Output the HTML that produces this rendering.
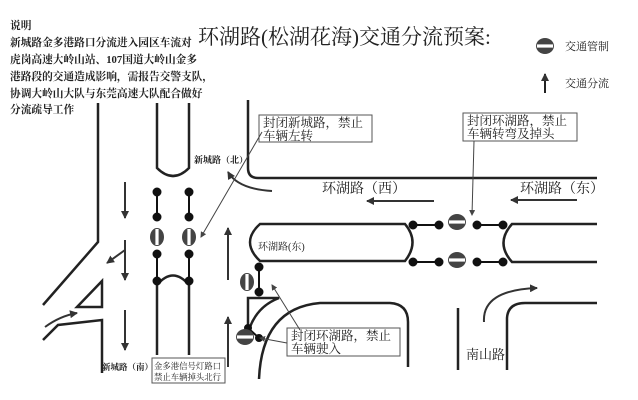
<!DOCTYPE html>
<html><head><meta charset="utf-8"><style>
html,body{margin:0;padding:0;background:#fff;width:638px;height:400px;overflow:hidden}
svg{display:block}
text{font-family:"Liberation Serif","Noto Serif CJK SC","Noto Sans CJK SC",serif;fill:#222}
</style></head><body>
<svg width="638" height="400" viewBox="0 0 638 400" xmlns="http://www.w3.org/2000/svg">
<defs>
<marker id="ah" markerWidth="8" markerHeight="8" refX="7" refY="4" orient="auto" markerUnits="userSpaceOnUse"><path d="M0,0 L8,4 L0,8 Z" fill="#333"/></marker>
<marker id="ahs" markerWidth="6" markerHeight="6" refX="5" refY="3" orient="auto" markerUnits="userSpaceOnUse"><path d="M0,0 L6,3 L0,6 Z" fill="#444"/></marker>
<g id="nev"><ellipse cx="0" cy="0" rx="7" ry="9" fill="#444"/><rect x="-1.6" y="-8" width="3.2" height="16" fill="#fff"/></g>
<g id="neh"><ellipse cx="0" cy="0" rx="9" ry="8" fill="#444"/><rect x="-8" y="-1.6" width="16" height="3.2" fill="#fff"/></g>
</defs>

<!-- explanatory text -->
<g font-size="10.7" font-weight="bold">
<text x="10" y="29">说明</text>
<text x="10" y="46">新城路金多港路口分流进入园区车流对</text>
<text x="10" y="63">虎岗高速大岭山站、107国道大岭山金多</text>
<text x="10" y="80">港路段的交通造成影响，需报告交警支队，</text>
<text x="10" y="97">协调大岭山大队与东莞高速大队配合做好</text>
<text x="10" y="113">分流疏导工作</text>
</g>
<text x="198" y="44" font-size="21">环湖路(松湖花海)交通分流预案:</text>

<!-- legend -->
<use href="#neh" x="545" y="46"/>
<text x="565" y="50" font-size="11">交通管制</text>
<line x1="545" y1="93" x2="545" y2="74" stroke="#222" stroke-width="2" marker-end="url(#ah)"/>
<text x="565" y="87" font-size="11">交通分流</text>

<g fill="none" stroke="#222" stroke-width="2.5">
<polyline points="98,103 98,242 43,305"/>
<polygon points="102,281 77,307 102,307"/>
<polyline points="43,340 58,325 102,320 102,373"/>
<path d="M157,103 L157,168 Q173,184 189,168 L189,103"/>
<path d="M157,355 L157,285 Q173,266 189,285 L189,355"/>
<path d="M248,100 L248,168 Q248,178 258,178 L597,178"/>
<path d="M260,224 L405,224 Q420,242 405,261 L260,261 Q240,242 260,224 Z"/>
<path d="M597,224 L512,224 Q495,243 512,262 L597,262"/>
<path d="M259,379 Q262,308 320,303 L390,303 Q408,304 408,322 L408,367"/>
<line x1="458" y1="308" x2="458" y2="370"/>
<path d="M507,370 L507,318 Q508,303 525,303 L597,303"/>
<path d="M248,328 L248,298 L279,298 Q258,306 250,327"/>
</g>

<g stroke="#111" stroke-width="2" fill="#111">
<line x1="157" y1="192" x2="157" y2="217"/><line x1="189" y1="192" x2="189" y2="217"/>
<line x1="157" y1="254" x2="157" y2="281"/><line x1="189" y1="254" x2="189" y2="281"/>
<circle cx="157" cy="192" r="3.5"/><circle cx="157" cy="217" r="3.5"/><circle cx="189" cy="192" r="3.5"/><circle cx="189" cy="217" r="3.5"/>
<circle cx="157" cy="254" r="3.5"/><circle cx="157" cy="281" r="3.5"/><circle cx="189" cy="254" r="3.5"/><circle cx="189" cy="281" r="3.5"/>
<line x1="413" y1="225" x2="439" y2="225"/><line x1="477" y1="225" x2="503" y2="225"/>
<line x1="413" y1="262" x2="439" y2="262"/><line x1="477" y1="262" x2="503" y2="262"/>
<circle cx="413" cy="225" r="3.5"/><circle cx="439" cy="225" r="3.5"/><circle cx="477" cy="225" r="3.5"/><circle cx="503" cy="225" r="3.5"/>
<circle cx="413" cy="262" r="3.5"/><circle cx="439" cy="262" r="3.5"/><circle cx="477" cy="262" r="3.5"/><circle cx="503" cy="262" r="3.5"/>
<line x1="259" y1="267" x2="259" y2="292"/>
<circle cx="259" cy="267" r="3.5"/><circle cx="259" cy="292" r="3.5"/>
<line x1="248" y1="328" x2="259" y2="338"/>
<circle cx="248" cy="328" r="3"/><circle cx="259" cy="338" r="3"/>
</g>
<use href="#nev" x="157" y="237"/><use href="#nev" x="189" y="237"/>
<use href="#neh" x="457" y="222"/><use href="#neh" x="457" y="260"/>
<use href="#nev" x="247" y="282"/><use href="#neh" x="245" y="337"/>

<g stroke="#333" stroke-width="2" fill="none">
<line x1="125" y1="182" x2="125" y2="218" marker-end="url(#ah)"/>
<line x1="125" y1="240" x2="125" y2="280" marker-end="url(#ah)"/>
<line x1="125" y1="310" x2="125" y2="350" marker-end="url(#ah)"/>
<line x1="125" y1="250" x2="107" y2="263" marker-end="url(#ah)"/>
<path d="M45,327 Q60,316 77,313" marker-end="url(#ah)"/>
<line x1="228" y1="280" x2="228" y2="228" marker-end="url(#ah)"/>
<line x1="228" y1="367" x2="228" y2="317" marker-end="url(#ah)"/>
<path d="M272,191 Q238,189 228,172" marker-end="url(#ah)"/>
<line x1="434" y1="201" x2="367" y2="201" marker-end="url(#ah)"/>
<line x1="577" y1="200" x2="511" y2="200" marker-end="url(#ah)"/>
<path d="M484,322 Q482,290 537,288" marker-end="url(#ah)"/>
</g>

<text x="194" y="163" font-size="9" font-weight="bold">新城路（北）</text>
<text x="322" y="193" font-size="14">环湖路（西）</text>
<text x="520" y="193" font-size="14">环湖路（东）</text>
<text x="258" y="250" font-size="10">环湖路(东)</text>
<text x="102" y="370" font-size="8.5" font-weight="bold">新城路（南）</text>
<text x="466" y="359" font-size="13">南山路</text>

<g fill="#fff" stroke="#555" stroke-width="1">
<rect x="259" y="115" width="113" height="27"/>
<rect x="463" y="113" width="114" height="28"/>
<rect x="287" y="328" width="113" height="28"/>
<rect x="152" y="358" width="73" height="25"/>
</g>
<g font-size="12.5">
<text x="263" y="127">封闭新城路，禁止</text>
<text x="263" y="140">车辆左转</text>
<text x="467" y="125">封闭环湖路，禁止</text>
<text x="467" y="138">车辆转弯及掉头</text>
<text x="291" y="340">封闭环湖路，禁止</text>
<text x="291" y="353">车辆驶入</text>
</g>
<text x="154" y="369" font-size="8.4">金多港信号灯路口</text>
<text x="154" y="380" font-size="8.4">禁止车辆掉头北行</text>

<g stroke="#444" stroke-width="1" fill="none">
<line x1="262" y1="132" x2="201" y2="237" marker-end="url(#ahs)"/>
<line x1="474" y1="141" x2="472" y2="215" marker-end="url(#ahs)"/>
<line x1="300" y1="330" x2="272" y2="285" marker-end="url(#ahs)"/>
<line x1="287" y1="343" x2="260" y2="338" marker-end="url(#ahs)"/>
</g>
</svg>
</body></html>
